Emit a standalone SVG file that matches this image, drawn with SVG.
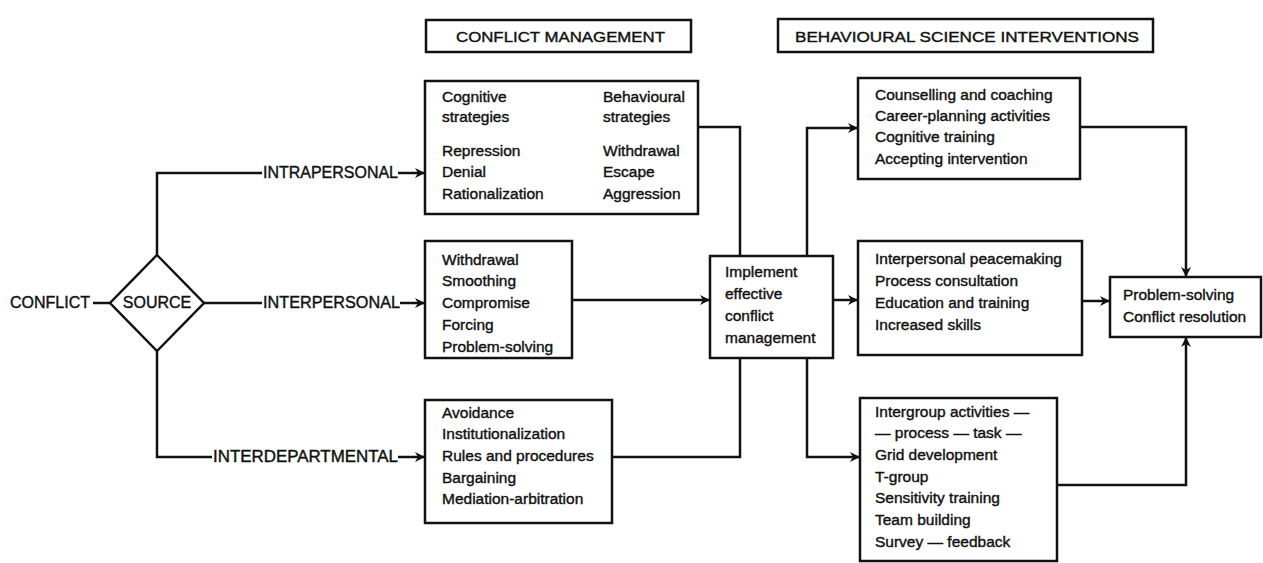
<svg xmlns="http://www.w3.org/2000/svg" width="1263" height="563" viewBox="0 0 1263 563">
<style>
.box{fill:#fff;stroke:#111;stroke-width:2.5}
.ln{fill:none;stroke:#111;stroke-width:2.5}
text{font-family:"Liberation Sans",Arial,sans-serif;font-size:15.5px;fill:#111;stroke:#111;stroke-width:0.4}
.cap{font-size:16px}
</style>
<defs>
<marker id="ar" viewBox="0 0 10 10" refX="10" refY="5" markerWidth="4" markerHeight="4" orient="auto" markerUnits="strokeWidth">
<path d="M0,0 L10,5 L0,10 L3,5 Z" fill="#111"/>
</marker>
</defs>
<rect width="1263" height="563" fill="#fff"/>

<g id="connectors">
<line class="ln" x1="93" y1="303" x2="110" y2="303"/>
<polyline class="ln" points="157,256 157,173 262,173"/>
<line class="ln" x1="398" y1="173" x2="425" y2="173" marker-end="url(#ar)"/>
<line class="ln" x1="203" y1="303" x2="262" y2="303"/>
<line class="ln" x1="400" y1="303" x2="425" y2="303" marker-end="url(#ar)"/>
<polyline class="ln" points="157,350 157,457 212,457"/>
<line class="ln" x1="398" y1="457" x2="425" y2="457" marker-end="url(#ar)"/>
<polyline class="ln" points="698,127 740,127 740,256"/>
<polyline class="ln" points="612,457 740,457 740,358"/>
<line class="ln" x1="572" y1="300" x2="710" y2="300" marker-end="url(#ar)"/>
<polyline class="ln" points="807,256 807,128 858,128" marker-end="url(#ar)"/>
<line class="ln" x1="833" y1="300" x2="858" y2="300" marker-end="url(#ar)"/>
<polyline class="ln" points="807,358 807,457 860,457" marker-end="url(#ar)"/>
<polyline class="ln" points="1080,127 1186,127 1186,277" marker-end="url(#ar)"/>
<line class="ln" x1="1082" y1="301" x2="1110" y2="301" marker-end="url(#ar)"/>
<polyline class="ln" points="1057,485 1186,485 1186,337" marker-end="url(#ar)"/>
</g>

<g id="hdr-cm">
<rect class="box" x="426" y="20" width="265" height="32"/>
<text x="456" y="42" textLength="209" lengthAdjust="spacingAndGlyphs">CONFLICT  MANAGEMENT</text>
</g>
<g id="hdr-bsi">
<rect class="box" x="778" y="19" width="375" height="33"/>
<text x="795" y="42" textLength="344" lengthAdjust="spacingAndGlyphs">BEHAVIOURAL SCIENCE INTERVENTIONS</text>
</g>

<g id="conflict"><text class="cap" x="10" y="308" textLength="80" lengthAdjust="spacingAndGlyphs">CONFLICT</text></g>
<g id="source">
<polygon class="box" points="157,255 204,303 157,351 110,303"/>
<text class="cap" x="157" y="308" text-anchor="middle">SOURCE</text>
</g>
<g id="lbl-intra"><text class="cap" x="263" y="178" textLength="135" lengthAdjust="spacingAndGlyphs">INTRAPERSONAL</text></g>
<g id="lbl-inter"><text class="cap" x="263" y="308" textLength="137" lengthAdjust="spacingAndGlyphs">INTERPERSONAL</text></g>
<g id="lbl-interdept"><text class="cap" x="213" y="462" textLength="185" lengthAdjust="spacingAndGlyphs">INTERDEPARTMENTAL</text></g>

<g id="box-intra">
<rect class="box" x="425" y="81" width="273" height="133"/>
<text x="442" y="102">Cognitive</text>
<text x="442" y="122">strategies</text>
<text x="442" y="156">Repression</text>
<text x="442" y="177">Denial</text>
<text x="442" y="199">Rationalization</text>
<text x="603" y="102">Behavioural</text>
<text x="603" y="122">strategies</text>
<text x="603" y="156">Withdrawal</text>
<text x="603" y="177">Escape</text>
<text x="603" y="199">Aggression</text>
</g>

<g id="box-inter">
<rect class="box" x="425" y="241" width="147" height="117"/>
<text x="442" y="265">Withdrawal</text>
<text x="442" y="286">Smoothing</text>
<text x="442" y="308">Compromise</text>
<text x="442" y="330">Forcing</text>
<text x="442" y="352">Problem-solving</text>
</g>

<g id="box-interdept">
<rect class="box" x="425" y="400" width="187" height="123"/>
<text x="442" y="418">Avoidance</text>
<text x="442" y="439">Institutionalization</text>
<text x="442" y="461">Rules and procedures</text>
<text x="442" y="483">Bargaining</text>
<text x="442" y="504">Mediation-arbitration</text>
</g>

<g id="box-implement">
<rect class="box" x="710" y="256" width="123" height="102"/>
<text x="725" y="277">Implement</text>
<text x="725" y="299">effective</text>
<text x="725" y="321">conflict</text>
<text x="725" y="343">management</text>
</g>

<g id="box-counsel">
<rect class="box" x="858" y="78" width="222" height="101"/>
<text x="875" y="100">Counselling and coaching</text>
<text x="875" y="121">Career-planning activities</text>
<text x="875" y="142">Cognitive training</text>
<text x="875" y="164">Accepting intervention</text>
</g>

<g id="box-peace">
<rect class="box" x="858" y="241" width="224" height="114"/>
<text x="875" y="264">Interpersonal peacemaking</text>
<text x="875" y="286">Process consultation</text>
<text x="875" y="308">Education and training</text>
<text x="875" y="330">Increased skills</text>
</g>

<g id="box-intergroup">
<rect class="box" x="860" y="398" width="197" height="163"/>
<text x="875" y="417">Intergroup activities —</text>
<text x="875" y="438">— process — task —</text>
<text x="875" y="460">Grid development</text>
<text x="875" y="482">T-group</text>
<text x="875" y="503">Sensitivity training</text>
<text x="875" y="525">Team building</text>
<text x="875" y="547">Survey — feedback</text>
</g>

<g id="box-result">
<rect class="box" x="1110" y="277" width="151" height="60"/>
<text x="1123" y="300">Problem-solving</text>
<text x="1123" y="322">Conflict resolution</text>
</g>
</svg>
